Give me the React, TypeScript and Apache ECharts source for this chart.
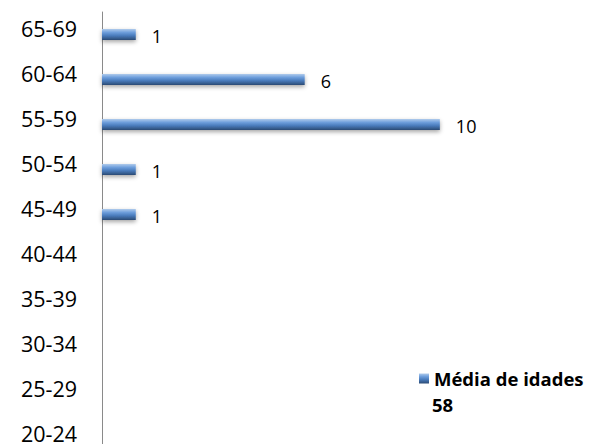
import React, { useEffect, useRef } from "react";
import * as echarts from "echarts";

const categories = ["20-24", "25-29", "30-34", "35-39", "40-44", "45-49", "50-54", "55-59", "60-64", "65-69"];
const values: (number | null)[] = [null, null, null, null, null, 1, 1, 10, 6, 1];
const seriesName = "Média de idades";
const averageText = "58";

export default function App() {
  const ref = useRef<HTMLDivElement>(null);
  useEffect(() => {
    if (!ref.current) return;
    const chart = echarts.init(ref.current, undefined, { renderer: "svg" });
    const font = "'Open Sans', Lato, sans-serif";
    chart.setOption({
      animation: false,
      backgroundColor: "#ffffff",
      grid: { left: 102, top: 12, width: 473, height: 450, containLabel: false },
      xAxis: {
        type: "value",
        min: 0,
        max: 14,
        show: false,
      },
      yAxis: {
        type: "category",
        data: categories,
        axisLine: { show: true, lineStyle: { color: "#8a8a8a", width: 1 } },
        axisTick: { show: false },
        axisLabel: {
          margin: 25,
          formatter: (v: string) => "{a|" + v + "}",
          rich: {
            a: {
              color: "#000",
              fontSize: 21.5,
              fontFamily: font,
              padding: [0, 0, 13, 0],
            },
          },
        },
        splitLine: { show: false },
      },
      legend: {
        data: [seriesName],
        left: 414,
        top: 364,
        icon: "rect",
        itemWidth: 10,
        itemHeight: 10,
        itemGap: 8,
        textStyle: { fontSize: 18.5, fontWeight: "bold", color: "#000", fontFamily: font },
      },
      graphic: [
        {
          type: "text",
          left: 432,
          top: 395,
          style: { text: averageText, fontSize: 18.5, fontWeight: "bold", fill: "#000", fontFamily: font },
        },
      ],
      series: [
        {
          name: seriesName,
          type: "bar",
          data: values,
          barWidth: 11,
          itemStyle: {
            color: new echarts.graphic.LinearGradient(0, 0, 0, 1, [
              { offset: 0, color: "#b0cbeb" },
              { offset: 0.3, color: "#6f9fdc" },
              { offset: 0.6, color: "#4a7cbc" },
              { offset: 1, color: "#2b4a74" },
            ]),
            shadowColor: "rgba(0,0,0,0.35)",
            shadowBlur: 4,
            shadowOffsetY: 2,
          },
          label: {
            show: true,
            position: "right",
            distance: 16,
            color: "#000",
            fontSize: 18,
            fontFamily: font,
            offset: [0, 1],
          },
        },
      ],
    });
    return () => chart.dispose();
  }, []);
  return (
    <div style={{ width: 599, height: 444, position: "absolute", left: 0, top: 0, overflow: "hidden" }}>
      <div ref={ref} style={{ width: 599, height: 470 }} />
    </div>
  );
}
